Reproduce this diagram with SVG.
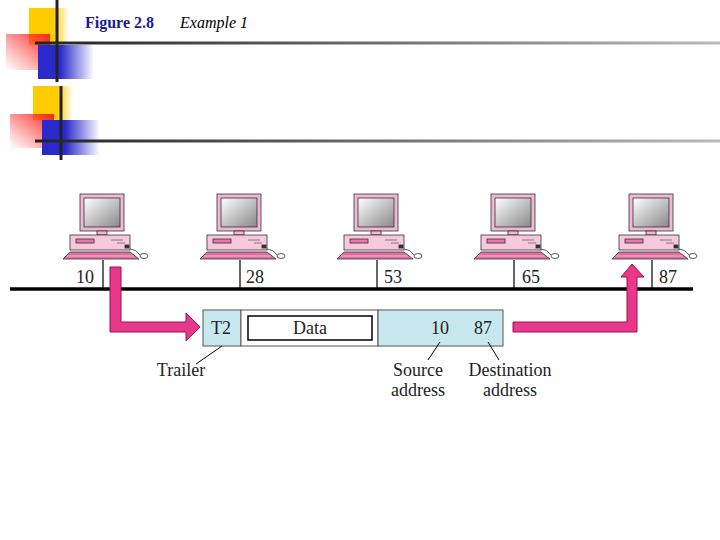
<svg xmlns="http://www.w3.org/2000/svg" width="720" height="540" viewBox="0 0 720 540">
<defs>
<linearGradient id="yel" x1="0" x2="1"><stop offset="0.6" stop-color="#ffcc00"/><stop offset="1" stop-color="#ffcc00" stop-opacity="0"/></linearGradient>
<linearGradient id="red" x1="1" y1="0" x2="0" y2="1"><stop offset="0" stop-color="#ff2020"/><stop offset="1" stop-color="#ff4040" stop-opacity="0"/></linearGradient>
<linearGradient id="blu" x1="0" x2="1"><stop offset="0.4" stop-color="#2a2acc"/><stop offset="1" stop-color="#2a2acc" stop-opacity="0"/></linearGradient>
<linearGradient id="ln" gradientUnits="userSpaceOnUse" x1="35" y1="0" x2="720" y2="0"><stop offset="0" stop-color="#222"/><stop offset="1" stop-color="#bbb"/></linearGradient>
<linearGradient id="scr" x1="0" y1="0" x2="1" y2="1"><stop offset="0" stop-color="#fff"/><stop offset="1" stop-color="#888"/></linearGradient>
<g id="pc" stroke="#333" stroke-width="0.8">
<rect x="-23" y="-95" width="44" height="37" fill="#f2b8d2"/>
<rect x="-19" y="-91" width="36" height="29" fill="url(#scr)"/>
<rect x="-6" y="-58" width="10" height="4" fill="#f2b8d2"/>
<rect x="-33" y="-54" width="60" height="15" fill="#f7c8dc"/>
<rect x="-27" y="-50" width="18" height="4" fill="#e878a8"/>
<path d="M8,-49 h12 M14,-46 h8" stroke="#666"/>
<rect x="22" y="-44" width="4" height="3" fill="#333"/>
<path d="M-33,-37 H27 L36,-30 H-40 Z" fill="#e070a0"/>
<path d="M-36,-33 H31" stroke="#fff" stroke-width="0.5"/>
<path d="M27,-40 q6,0 10,6" fill="none"/>
<ellipse cx="41" cy="-33" rx="4" ry="2.5" fill="#fff"/>
<line x1="0" y1="-29" x2="0" y2="0" stroke="#000" stroke-width="1.2"/>
</g>
</defs>
<style>
.n{font-family:"Liberation Serif",serif;font-size:18px;fill:#222}
.pk{fill:#e8388a;stroke:#a01050;stroke-width:1}
</style>
<g id="header">
<rect x="29" y="8" width="40" height="37" fill="url(#yel)"/>
<rect x="6" y="34" width="44" height="36" fill="url(#red)"/>
<rect x="38" y="45" width="56" height="34" fill="url(#blu)"/>
<rect x="33" y="86" width="40" height="34" fill="url(#yel)"/>
<rect x="10" y="114" width="44" height="34" fill="url(#red)"/>
<rect x="42" y="120" width="58" height="35" fill="url(#blu)"/>
<line x1="57" y1="0" x2="57" y2="82" stroke="#222" stroke-width="3"/>
<line x1="61" y1="86" x2="61" y2="160" stroke="#222" stroke-width="3"/>
<line x1="35" y1="43" x2="720" y2="43" stroke="url(#ln)" stroke-width="3"/>
<line x1="35" y1="141" x2="720" y2="141" stroke="url(#ln)" stroke-width="3"/>
<text x="85" y="28" font-family="Liberation Serif,serif" font-size="16" font-weight="bold" fill="#1a1a99">Figure 2.8</text>
<text x="180" y="28" font-family="Liberation Serif,serif" font-size="16" font-style="italic" fill="#000">Example 1</text>
</g>
<g id="bus"><line x1="10" y1="289" x2="693" y2="289" stroke="#000" stroke-width="3.5"/></g>
<g id="pc10"><use href="#pc" x="103" y="289"/><text class="n" x="76" y="283">10</text></g>
<g id="pc28"><use href="#pc" x="240" y="289"/><text class="n" x="246" y="283">28</text></g>
<g id="pc53"><use href="#pc" x="377" y="289"/><text class="n" x="384" y="283">53</text></g>
<g id="pc65"><use href="#pc" x="514" y="289"/><text class="n" x="522" y="283">65</text></g>
<g id="pc87"><use href="#pc" x="652" y="289"/><text class="n" x="659" y="283">87</text></g>
<g id="frame">
<rect x="203" y="310" width="38" height="36" fill="#c8e8f0" stroke="#555"/>
<rect x="241" y="310" width="137" height="36" fill="#fff" stroke="#555"/>
<rect x="248" y="316" width="124" height="24" fill="#fff" stroke="#000" stroke-width="1.5"/>
<rect x="378" y="310" width="125" height="36" fill="#c8e8f0" stroke="#555"/>
<text class="n" x="211" y="334">T2</text>
<text class="n" x="310" y="334" text-anchor="middle">Data</text>
<text class="n" x="431" y="334">10</text>
<text class="n" x="474" y="334">87</text>
</g>
<g id="labels">
<text class="n" x="181" y="376" text-anchor="middle">Trailer</text>
<text class="n" x="418" y="376" text-anchor="middle">Source</text>
<text class="n" x="418" y="396" text-anchor="middle">address</text>
<text class="n" x="510" y="376" text-anchor="middle">Destination</text>
<text class="n" x="510" y="396" text-anchor="middle">address</text>
</g>
<g id="connectors">
<path class="pk" d="M110,267 H121 V322 H186 V313 L200,327 L186,341 V332 H110 Z"/>
<path class="pk" d="M513,322 H627 V277 H621 L632,264 L644,277 H637 V332 H513 Z"/>
<g stroke="#000" stroke-width="1" fill="none">
<line x1="222" y1="346" x2="196" y2="364"/>
<line x1="440" y1="342" x2="428" y2="360"/>
<line x1="488" y1="342" x2="499" y2="360"/>
</g>
</g>
</svg>
